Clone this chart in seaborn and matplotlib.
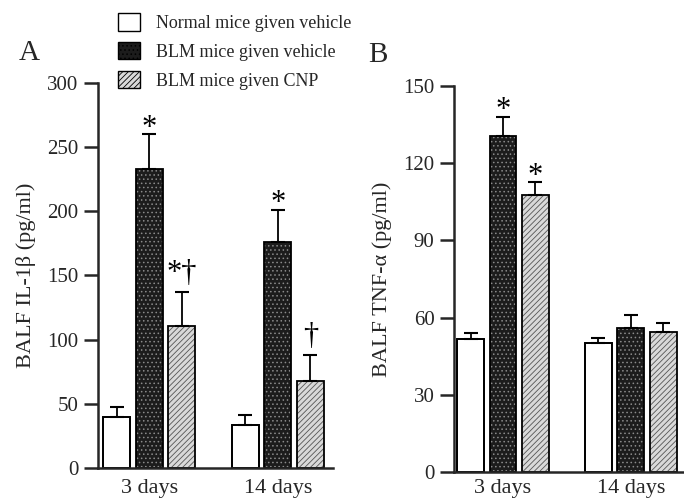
import matplotlib
matplotlib.use("Agg")
import matplotlib.pyplot as plt
from matplotlib.patches import Patch, Rectangle
import numpy as np
import pandas as pd
import seaborn as sns

# ---- data -------------------------------------------------------------
days = ["3 days", "14 days"]
groups = ["Normal mice given vehicle", "BLM mice given vehicle", "BLM mice given CNP"]

il1b_mean = {"3 days": [40, 233, 111], "14 days": [33.5, 176, 68]}
il1b_sem = {"3 days": [7.5, 27, 26], "14 days": [7.5, 25, 20]}
il1b_sig = {"3 days": ["", "*", "*\u2020"], "14 days": ["", "*", "\u2020"]}

tnf_mean = {"3 days": [51.5, 130.5, 107.5], "14 days": [50, 56, 54.5]}
tnf_sem = {"3 days": [2.5, 7.5, 5], "14 days": [2, 5, 3.5]}
tnf_sig = {"3 days": ["", "*", "*"], "14 days": ["", "", ""]}

il1b_ticks = [0, 50, 100, 150, 200, 250, 300]
tnf_ticks = [0, 30, 60, 90, 120, 150]

# ---- style ------------------------------------------------------------
sns.set_theme(style="ticks")
plt.rcParams["font.family"] = ["Liberation Serif", "DejaVu Serif"]
plt.rcParams["hatch.linewidth"] = 0.6

face = ["white", "#1c1c1c", "#d9d9d9"]
hatch = [None, "....", "//////"]
hatch_col = ["black", "#8a8a8a", "#555555"]


def to_frame(mean, sem, sig):
    rows = []
    for d in days:
        for g, m, s, t in zip(groups, mean[d], sem[d], sig[d]):
            rows.append({"day": d, "group": g, "value": m, "sem": s, "sig": t})
    return pd.DataFrame(rows)


def draw_panel(ax, df, ticks, ylabel, xpad):
    sns.barplot(data=df, x="day", y="value", hue="group", order=days,
                hue_order=groups, errorbar=None, width=0.76, gap=0.17,
                legend=False, ax=ax)
    bar_sets = list(ax.containers)[:len(groups)]
    for gi, cont in enumerate(bar_sets):
        sub = df[df["group"] == groups[gi]].set_index("day").loc[days]
        for bar, (_, row) in zip(cont, sub.iterrows()):
            bar.set_facecolor(face[gi])
            if hatch[gi]:
                bar.set_hatch(hatch[gi])
                bar.set_edgecolor(hatch_col[gi])
                bar.set_linewidth(0)
            else:
                bar.set_edgecolor("black")
                bar.set_linewidth(1.3)
            # black outline on top of the texture
            ax.add_patch(Rectangle(bar.get_xy(), bar.get_width(), bar.get_height(),
                                   fill=False, edgecolor="black", linewidth=1.3,
                                   zorder=bar.get_zorder() + 0.1))
            xc = bar.get_x() + bar.get_width() / 2
            ax.errorbar(xc, row["value"], yerr=[[0], [row["sem"]]], fmt="none",
                        ecolor="black", elinewidth=1.3, capsize=5, capthick=1.5,
                        zorder=4)
            if row["sig"]:
                # the dagger reaches down to the baseline, the asterisk sits high
                dy = 3 if "\u2020" in row["sig"] else -6
                ax.annotate(row["sig"], (xc, row["value"] + row["sem"]),
                            xytext=(0, dy), textcoords="offset points",
                            ha="center", va="bottom", fontsize=22, color="black")
    ax.set_ylim(ticks[0], ticks[-1])
    ax.set_yticks(ticks)
    ax.set_xlabel("")
    ax.set_ylabel(ylabel, fontsize=16, labelpad=8)
    ax.tick_params(axis="y", length=10, width=1.8, labelsize=15, direction="out",
                   pad=4)
    ax.tick_params(axis="x", length=0, labelsize=16, pad=xpad)
    for s in ("top", "right"):
        ax.spines[s].set_visible(False)
    ax.spines["left"].set_linewidth(1.8)
    ax.spines["bottom"].set_linewidth(1.8)
    ax.set_facecolor("white")


fig = plt.figure(figsize=(6.84, 5.0), dpi=100)
axA = fig.add_axes([0.1433, 0.064, 0.3436, 0.770])
axB = fig.add_axes([0.6637, 0.056, 0.336, 0.772])

draw_panel(axA, to_frame(il1b_mean, il1b_sem, il1b_sig), il1b_ticks,
           "BALF IL-1\u03b2 (pg/ml)", 8)
axA.set_xlim(-0.40, 1.43)
draw_panel(axB, to_frame(tnf_mean, tnf_sem, tnf_sig), tnf_ticks,
           "BALF TNF-\u03b1 (pg/ml)", 5)
axB.set_xlim(-0.383, 1.414)

fig.text(0.042, 0.894, "A", fontsize=21, ha="center", va="center")
fig.text(0.553, 0.89, "B", fontsize=21, ha="center", va="center")

handles = [Patch(facecolor=face[i], edgecolor="black", hatch=hatch[i], linewidth=1.0)
           for i in range(3)]
fig.legend(handles, groups, loc="upper left", bbox_to_anchor=(0.157, 0.995),
           frameon=False, fontsize=13, handlelength=1.2, handleheight=1.1,
           labelspacing=0.55, handletextpad=0.9, borderaxespad=0.2)

fig.savefig("out.png", dpi=100, facecolor="white")
